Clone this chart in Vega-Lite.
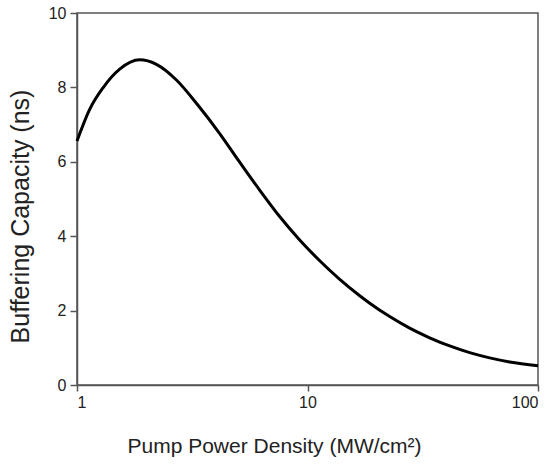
{
  "$schema": "https://vega.github.io/schema/vega-lite/v6.json",
  "autosize": {"type": "none"},
  "padding": {"left": 77, "top": 13, "right": 15, "bottom": 79},
  "width": 461,
  "height": 372,
  "background": "white",
  "config": {
    "view": {"stroke": "#555555", "strokeWidth": 1.5},
    "font": "Liberation Sans",
    "axis": {
      "domainColor": "#555555",
      "domainWidth": 1.5,
      "tickColor": "#555555",
      "tickWidth": 1.5,
      "grid": false,
      "labelFont": "Liberation Sans",
      "titleFont": "Liberation Sans",
      "labelColor": "#222222",
      "titleColor": "#222222",
      "labelFontSize": 16,
      "titleFontSize": 21,
      "titleFontWeight": "normal"
    }
  },
  "data": {
    "values": [
      {"p": 1.0, "b": 6.56},
      {"p": 1.135, "b": 7.41},
      {"p": 1.297, "b": 7.99},
      {"p": 1.532, "b": 8.49},
      {"p": 1.871, "b": 8.74},
      {"p": 2.21, "b": 8.62},
      {"p": 2.7, "b": 8.2},
      {"p": 3.35, "b": 7.52},
      {"p": 4.159, "b": 6.76},
      {"p": 5.08, "b": 5.99},
      {"p": 6.2, "b": 5.24},
      {"p": 7.57, "b": 4.53},
      {"p": 9.25, "b": 3.9},
      {"p": 11.3, "b": 3.34},
      {"p": 13.8, "b": 2.84},
      {"p": 16.85, "b": 2.4},
      {"p": 18.62, "b": 2.2},
      {"p": 22.73, "b": 1.84},
      {"p": 27.75, "b": 1.53},
      {"p": 33.89, "b": 1.27},
      {"p": 41.4, "b": 1.05},
      {"p": 50.54, "b": 0.87},
      {"p": 61.71, "b": 0.73},
      {"p": 75.38, "b": 0.62},
      {"p": 100, "b": 0.52}
    ]
  },
  "mark": {"type": "line", "color": "black", "strokeWidth": 3, "interpolate": "monotone"},
  "encoding": {
    "x": {
      "field": "p",
      "type": "quantitative",
      "scale": {"type": "log", "domain": [1, 100], "nice": false},
      "axis": {
        "title": "Pump Power Density (MW/cm²)",
        "values": [1, 10, 100],
        "format": "d",
        "tickSize": 6,
        "labelPadding": 3,
        "titleX": 197,
        "titleY": 67,
        "titleAlign": "center",
        "titleBaseline": "alphabetic"
      }
    },
    "y": {
      "field": "b",
      "type": "quantitative",
      "scale": {"domain": [0, 10], "nice": false},
      "axis": {
        "title": "Buffering Capacity (ns)",
        "values": [0, 2, 4, 6, 8, 10],
        "tickSize": 7,
        "labelPadding": 4,
        "titleFontSize": 25,
        "titleX": -49,
        "titleY": 203,
        "titleAlign": "center",
        "titleBaseline": "alphabetic",
        "titleAngle": -90
      }
    }
  }
}
